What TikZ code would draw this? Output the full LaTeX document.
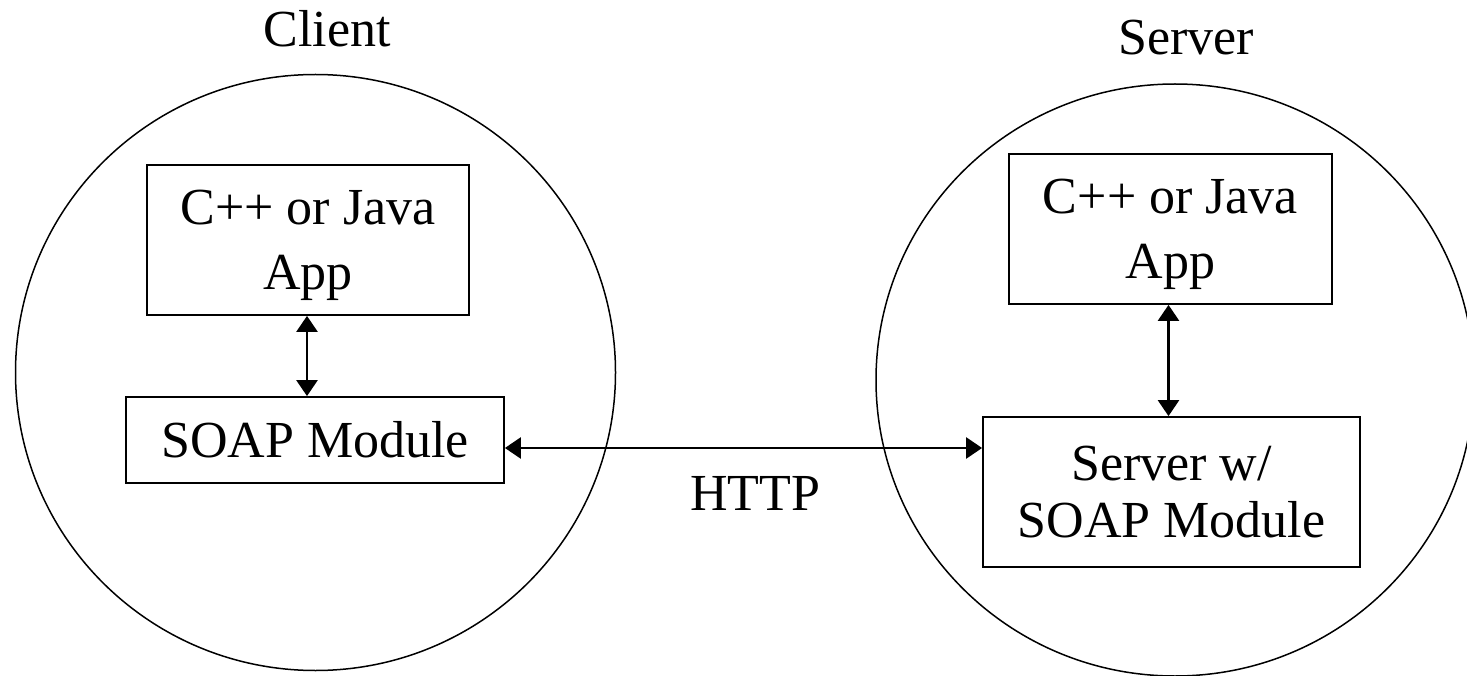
\documentclass[tikz,border=0pt]{standalone}
\usepackage{fontspec}
\setmainfont{Liberation Serif}
\usetikzlibrary{arrows.meta}
\begin{document}
\begin{tikzpicture}[x=1pt,y=-1pt,
  bigtext/.style={font=\fontsize{52}{57}\selectfont},
  lbl/.style={bigtext, inner sep=0pt, anchor=base},
  box/.style={draw, line width=1.8pt, inner sep=0pt, align=center, bigtext},
  world/.style={draw, line width=1.5pt},
  conn/.style={line width=2.6pt, {Triangle[length=16pt,width=21pt]}-{Triangle[length=16pt,width=21pt]}}
]
\useasboundingbox (0,0) rectangle (1467,676);
\clip (0,0) rectangle (1467,676);

% worlds
\draw[world] (315.5,372.5) ellipse [x radius=300, y radius=298];
\draw[world] (1175,380) ellipse [x radius=299, y radius=296];

% titles
\node[lbl] (client) at (327,47) {Client};
\node[lbl] (server) at (1186,55) {Server};

% client boxes
\node[box, minimum width=322pt, minimum height=150pt, text depth=0pt,
      font=\fontsize{52}{65}\selectfont] (ltop) at (308,240) {C++ or Java\\App};
\node[box, minimum width=378pt, minimum height=86pt] (lsoap) at (315,440) {SOAP Module};

% server boxes
\node[box, minimum width=323pt, minimum height=150pt, text depth=0pt,
      font=\fontsize{52}{65}\selectfont] (rtop) at (1170.5,229) {C++ or Java\\App};
\node[box, minimum width=377pt, minimum height=150pt] (rsrv) at (1171.5,492) {Server w/\\SOAP Module};

% connectors
\draw[conn] ([xshift=-1pt]ltop.south) -- ([xshift=-1pt]ltop.south |- lsoap.north);
\draw[conn] ([xshift=-2pt]rtop.south) -- ([xshift=-2pt]rtop.south |- rsrv.north);
\path ([yshift=-8pt]lsoap.east) coordinate (h1);
\draw[conn] (h1) -- (h1 -| rsrv.west);

% link label
\node[lbl] (http) at (755,510) {HTTP};
\end{tikzpicture}
\end{document}
